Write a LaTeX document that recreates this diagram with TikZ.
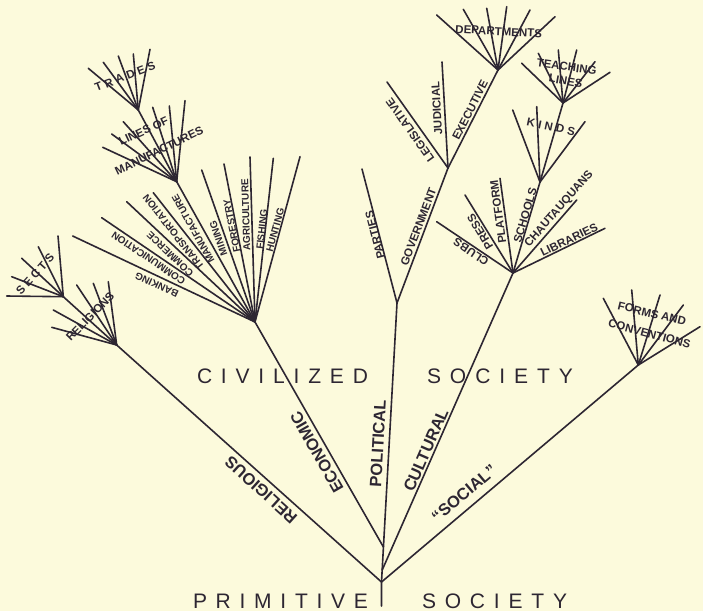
\documentclass[tikz,border=0pt]{standalone}
\usepackage{fontspec}
\setmainfont{Liberation Sans}
\definecolor{bg}{RGB}{252,250,220}
\definecolor{ink}{RGB}{45,38,50}
\newcommand\lblsmall{\bfseries\fontsize{10}{10}\selectfont}
\newcommand\lblmid{\bfseries\fontsize{11.5}{11.5}\selectfont}
\newcommand\lblmain{\bfseries\fontsize{16.5}{16.5}\selectfont}
\newcommand\lbltitle{\fontsize{21}{21}\selectfont}
\newcommand\spr[2]{\makebox[#1][s]{#2}}
\newcommand\hf{\hfill}
\begin{document}
\begin{tikzpicture}[x=1pt,y=-1pt,
  br/.style={draw=ink,line width=1.6pt,line cap=round},
  lbs/.style={text=ink,font=\lblsmall,inner sep=0pt,text height=7.2pt,text depth=0pt},
  lbm/.style={text=ink,font=\lblmid,inner sep=0pt,text height=8.2pt,text depth=0pt},
  lbb/.style={text=ink,font=\lblmain,inner sep=0pt,text height=11.8pt,text depth=0pt},
  ttl/.style={text=ink,font=\lbltitle,inner sep=0pt,text height=15pt,text depth=0pt}]
\path[fill=bg,use as bounding box] (0,0) rectangle (703,611);

% main joints
\coordinate (bot) at (381.5,606);
\coordinate (R) at (381.5,582);
\coordinate (Jc) at (382.2,570);
\coordinate (Je) at (383.4,547);
\coordinate (G0) at (397,303);
\coordinate (E) at (255,322);
\coordinate (Rn) at (116.7,345);
\coordinate (S) at (63.3,296.7);
\coordinate (C) at (513,273);
\coordinate (F) at (638.3,365);
\coordinate (L) at (448,168);
\coordinate (D) at (498,70);
\coordinate (K) at (540,182);
\coordinate (Tn) at (563,103);
\coordinate (M) at (176.7,181.7);
\coordinate (T) at (138.3,110);

% free ends
\coordinate (s1) at (6.7,296);
\coordinate (s2) at (11.7,276.7);
\coordinate (s3) at (21.7,258.3);
\coordinate (s4) at (38.3,246.7);
\coordinate (s5) at (58,236);
\coordinate (r1) at (51.7,327.3);
\coordinate (r2) at (53.3,310);
\coordinate (r3) at (76.7,285);
\coordinate (r4) at (93.3,283.3);
\coordinate (r5) at (108.3,281.7);
\coordinate (e1) at (72.7,236);
\coordinate (e2) at (101.7,217.7);
\coordinate (e3) at (126.7,201.7);
\coordinate (e4) at (153.3,192.7);
\coordinate (e6) at (201.7,170);
\coordinate (e7) at (224,164);
\coordinate (e8) at (250,157);
\coordinate (e9) at (273.3,158.3);
\coordinate (e10) at (300,156.7);
\coordinate (m1) at (102.7,147.3);
\coordinate (m2) at (111.7,134);
\coordinate (m3) at (123.3,121.7);
\coordinate (m5) at (152.7,107.3);
\coordinate (m6) at (169.3,106);
\coordinate (m7) at (185,100.7);
\coordinate (tr1) at (88.3,68.3);
\coordinate (tr2) at (103.3,62.3);
\coordinate (tr3) at (118.3,56);
\coordinate (tr4) at (133.3,54);
\coordinate (tr5) at (150,49.3);
\coordinate (p1) at (362,169);
\coordinate (leg) at (387,82);
\coordinate (jud) at (442,62);
\coordinate (d1) at (436.7,15);
\coordinate (d2) at (463.3,9.3);
\coordinate (d3) at (486.7,8.3);
\coordinate (d4) at (506.7,6.7);
\coordinate (d5) at (530,10);
\coordinate (d6) at (555,16.7);
\coordinate (t1) at (521.7,63.3);
\coordinate (t2) at (538.3,53.3);
\coordinate (t3) at (558.3,50);
\coordinate (t4) at (576.7,50);
\coordinate (t5) at (595,61.7);
\coordinate (t6) at (610,72.3);
\coordinate (k1) at (512.7,110);
\coordinate (k2) at (536.7,106.7);
\coordinate (k3) at (585,121.7);
\coordinate (c1) at (436.7,221.7);
\coordinate (c2) at (465,195);
\coordinate (c3) at (500,178.3);
\coordinate (c5) at (576.7,200);
\coordinate (c6) at (605,228.3);
\coordinate (f1) at (603.3,298.3);
\coordinate (f2) at (631.7,290);
\coordinate (f3) at (660,295);
\coordinate (f4) at (683.3,305);
\coordinate (f5) at (700,326.7);

% main branches
\draw[br] (bot) -- (R) -- (G0);
\draw[br] (R) -- (Rn);
\draw[br] (R) -- (F);
\draw[br] (Jc) -- (C);
\draw[br] (Je) -- (E);

% religious
\draw[br] (Rn) -- (S);
\foreach \q in {r1,r2,r3,r4,r5} \draw[br] (Rn) -- (\q);
\foreach \q in {s1,s2,s3,s4,s5} \draw[br] (S) -- (\q);

% economic
\foreach \q in {e1,e2,e3,e4,M,e6,e7,e8,e9,e10} \draw[br] (E) -- (\q);
\foreach \q in {m1,m2,m3,T,m5,m6,m7} \draw[br] (M) -- (\q);
\foreach \q in {tr1,tr2,tr3,tr4,tr5} \draw[br] (T) -- (\q);

% political
\draw[br] (G0) -- (p1);
\draw[br] (G0) -- (L);
\foreach \q in {leg,jud,D} \draw[br] (L) -- (\q);
\foreach \q in {d1,d2,d3,d4,d5,d6} \draw[br] (D) -- (\q);

% cultural
\foreach \q in {c1,c2,c3,K,c5,c6} \draw[br] (C) -- (\q);
\foreach \q in {k1,k2,Tn,k3} \draw[br] (K) -- (\q);
\foreach \q in {t1,t2,t3,t4,t5,t6} \draw[br] (Tn) -- (\q);

% social
\foreach \q in {f1,f2,f3,f4,f5} \draw[br] (F) -- (\q);

% titles
\node[ttl] (civ) at (282.5,375.5) {\spr{171pt}{C\hf I\hf V\hf I\hf L\hf I\hf Z\hf E\hf D}};
\node[ttl] (soc1) at (500,375.5) {\spr{146pt}{S\hf O\hf C\hf I\hf E\hf T\hf Y}};
\node[ttl] (prim) at (280.5,600.5) {\spr{175pt}{P\hf R\hf I\hf M\hf I\hf T\hf I\hf V\hf E}};
\node[ttl] (soc2) at (494.5,600.5) {\spr{145pt}{S\hf O\hf C\hf I\hf E\hf T\hf Y}};

% main labels
\node[lbb,rotate=137.9] (lrel) at (260.8,490) {RELIGIOUS};
\node[lbb,rotate=119.6] (leco) at (316.7,452.3) {ECONOMIC};
\node[lbb,rotate=86.8] (lpol) at (377.7,443.3) {POLITICAL};
\node[lbb,rotate=66.4] (lcul) at (425.7,450) {CULTURAL};
\node[lbb,rotate=40.2] (lsoc) at (464,493.3) {``SOCIAL''};

% religious group
\node[lbm,rotate=48.2] (lsects) at (35,274) {\spr{51pt}{S\hf E\hf C\hf T\hf S}};
\node[lbm,rotate=45.6] (lreligions) at (90,316.5) {RELIGIONS};

% economic fan
\node[lbs,rotate=154.7] (lbank) at (156.7,285) {BANKING};
\node[lbs,rotate=145.8] (lcomm) at (148.3,258.3) {COMMUNICATION};
\node[lbs,rotate=136.8] (lcomme) at (170,254.3) {COMMERCE};
\node[lbs,rotate=128.2] (ltrans) at (173.3,232.3) {TRANSPORTATION};
\node[lbs,rotate=119.2] (lmanu) at (193,229) {MANUFACTURE};
\node[lbs,rotate=109.3] (lmin) at (218.3,238.3) {MINING};
\node[lbs,rotate=101.1] (lfor) at (231.7,226) {FORESTRY};
\node[lbs,rotate=91.7] (lagr) at (245.7,215) {AGRICULTURE};
\node[lbs,rotate=83.6] (lfish) at (261.7,229.3) {FISHING};
\node[lbs,rotate=74.8] (lhunt) at (275,230) {HUNTING};
\node[lbm,rotate=25] (llines) at (143.5,131) {LINES OF};
\node[lbm,rotate=26] (lmanus) at (159,150.5) {MANUFACTURES};
\node[lbm,rotate=21] (ltrades) at (125,76.5) {\spr{64pt}{T\hf R\hf A\hf D\hf E\hf S}};

% political
\node[lbm,rotate=104.6] (lpart) at (375,235) {PARTIES};
\node[lbm,rotate=69.3] (lgov) at (418.3,226.7) {GOVERNMENT};
\node[lbm,rotate=125.3] (lleg) at (410,130) {LEGISLATIVE};
\node[lbm,rotate=93.2] (ljud) at (436.7,108.3) {JUDICIAL};
\node[lbm,rotate=63] (lexe) at (470,110) {EXECUTIVE};
\node[lbm,rotate=-3] (ldep) at (498.7,31.3) {DEPARTMENTS};

% cultural
\node[lbm,rotate=146.1] (lclubs) at (471,252) {CLUBS};
\node[lbm,rotate=121.6] (lpress) at (480,232) {PRESS};
\node[lbm,rotate=97.8] (lplat) at (498,212) {PLATFORM};
\node[lbm,rotate=73.5] (lschool) at (525,215) {SCHOOLS};
\node[lbm,rotate=48.9] (lchaut) at (558.3,208.3) {CHAUTAUQUANS};
\node[lbm,rotate=25.9] (llib) at (569,239.5) {LIBRARIES};
\node[lbm,rotate=-12] (lkinds) at (551,126.7) {\spr{49pt}{K\hf I\hf N\hf D\hf S}};
\node[lbm,rotate=-8] (lteach) at (566.7,66.7) {TEACHING};
\node[lbm,rotate=-10] (ltlines) at (565.8,80.8) {LINES};

% social
\node[lbm,rotate=-13.6] (lforms) at (652,313.5) {FORMS AND};
\node[lbm,rotate=-15] (lconv) at (649.5,333.5) {CONVENTIONS};
\end{tikzpicture}
\end{document}
